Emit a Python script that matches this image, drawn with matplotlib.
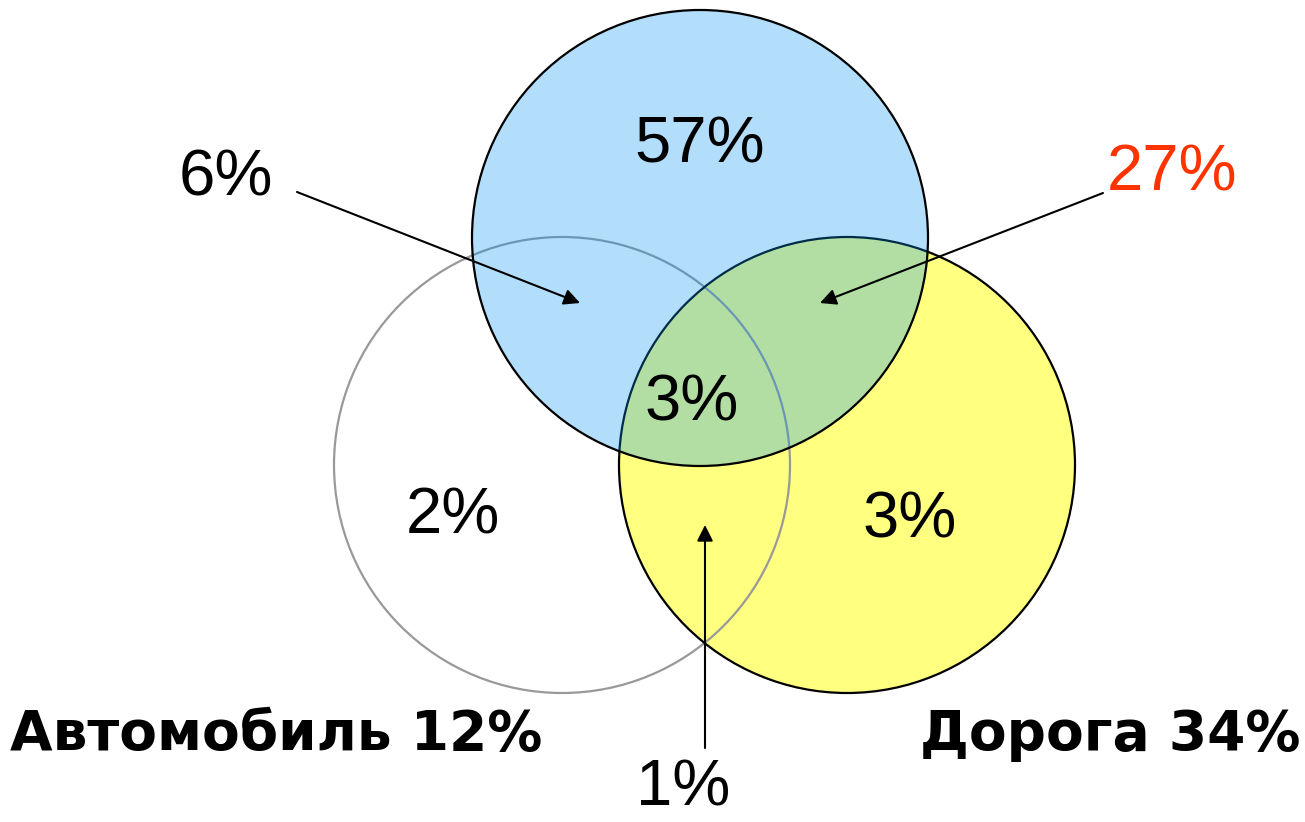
import matplotlib
matplotlib.use("Agg")
import matplotlib.pyplot as plt
from matplotlib.patches import Circle

# Data
set_names = ["Автомобиль", "Дорога"]
set_totals = [12, 34]
region_labels = ["57%", "6%", "27%", "3%", "2%", "3%", "1%"]
region_values = [57, 6, 27, 3, 2, 3, 1]

fig = plt.figure(figsize=(13.05, 8.22), dpi=100)
ax = fig.add_axes([0, 0, 1, 1])
ax.set_xlim(0, 1305)
ax.set_ylim(822, 0)
ax.set_aspect("equal")
ax.axis("off")

R = 228
# yellow (Дорога)
ax.add_patch(Circle((847, 465), R, facecolor="#ffff80", edgecolor="none", zorder=1))
# grey (Автомобиль) outline
ax.add_patch(Circle((562, 465), R, facecolor="none", edgecolor="#999999", lw=1.6, zorder=2))
# yellow edge
ax.add_patch(Circle((847, 465), R, facecolor="none", edgecolor="black", lw=1.6, zorder=3))
# blue translucent fill
ax.add_patch(Circle((700, 238), R, facecolor=(0.0, 0.58, 0.96, 0.3), edgecolor="none", zorder=4))
ax.add_patch(Circle((700, 238), R, facecolor="none", edgecolor="black", lw=1.6, zorder=5))

fs = 47
font = "Liberation Sans"
pos = [(700, 145), (226, 178), (1172, 173), (692, 403), (453, 517), (910, 520), (683, 789)]
colors = ["black", "black", "#ff3300", "black", "black", "black", "black"]
for lab, (x, y), c in zip(region_labels, pos, colors):
    ax.text(x, y, lab, ha="center", va="center", fontsize=fs, family=font, color=c, zorder=10)

arrows = [((297, 192), (580, 303)), ((1103, 193), (820, 303)), ((705, 748), (705, 525))]
for (x0, y0), (x1, y1) in arrows:
    ax.annotate("", xy=(x1, y1), xytext=(x0, y0),
                arrowprops=dict(arrowstyle="-|>", color="black", lw=1.5,
                                mutation_scale=24, shrinkA=0, shrinkB=0), zorder=9)

ax.text(10, 735, f"{set_names[0]} {set_totals[0]}%", ha="left", va="center", fontsize=39.6,
        fontweight="bold", family="DejaVu Sans", zorder=10)
ax.text(1300, 735, f"{set_names[1]} {set_totals[1]}%", ha="right", va="center", fontsize=39.6,
        fontweight="bold", family="DejaVu Sans", zorder=10)

fig.savefig("out.png", dpi=100)
